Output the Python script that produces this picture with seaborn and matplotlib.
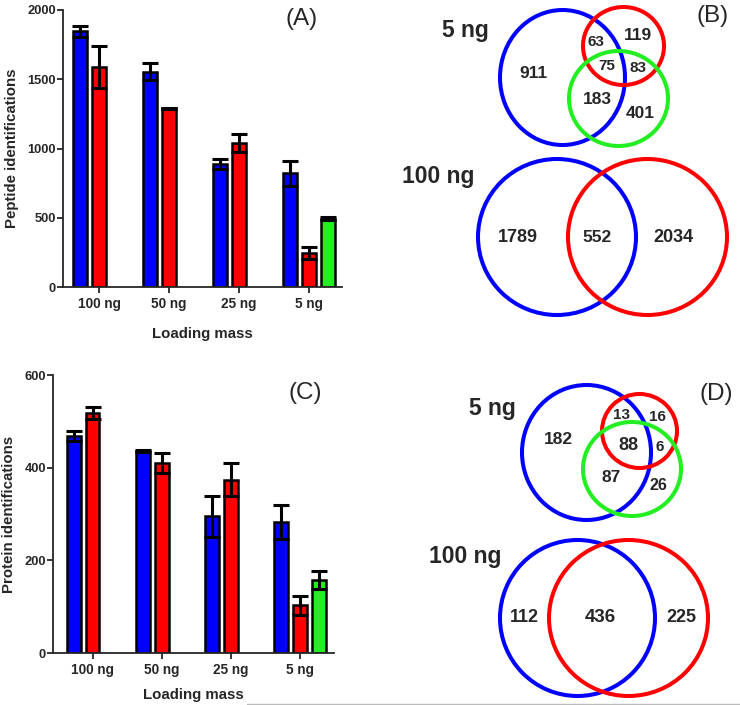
import numpy as np
import pandas as pd
import matplotlib
matplotlib.use("Agg")
import matplotlib.pyplot as plt
from matplotlib.patches import Ellipse
from matplotlib.lines import Line2D
import seaborn as sns

# ---------------- data ----------------
groups = ["100 ng", "50 ng", "25 ng", "5 ng"]
methods = ["Method 1", "Method 2", "Method 3"]
colors = ["#0000ff", "#ff0000", "#22ee22"]

pep_blue = [1845, 1555, 889, 822]
pep_blue_err = [43, 62, 38, 90]
pep_red = [1590, 1290, 1038, 245]
pep_red_err = [150, 5, 65, 43]
pep_green_groups = ["5 ng"]
pep_green = [493]
pep_green_err = [10]

prot_blue = [468, 436, 295, 283]
prot_blue_err = [11, 3, 44, 37]
prot_red = [517, 410, 374, 103]
prot_red_err = [13, 21, 36, 21]
prot_green_groups = ["5 ng"]
prot_green = [157]
prot_green_err = [19]

pep_yticks = [0, 500, 1000, 1500, 2000]
prot_yticks = [0, 200, 400, 600]

# Venn counts
venn_B_5ng = {"b": 911, "br": 63, "r": 119, "brg": 75, "rg": 83, "bg": 183, "g": 401}
venn_B_100ng = {"b": 1789, "br": 552, "r": 2034}
venn_D_5ng = {"b": 182, "br": 13, "r": 16, "brg": 88, "rg": 6, "bg": 87, "g": 26}
venn_D_100ng = {"b": 112, "br": 436, "r": 225}

# ---------------- style ----------------
sns.set_style("ticks")
plt.rcParams["font.family"] = ["Liberation Sans", "DejaVu Sans"]
plt.rcParams["axes.linewidth"] = 1.3
plt.rcParams["xtick.major.width"] = 1.3
plt.rcParams["ytick.major.width"] = 1.3

W, H = 740, 705
fig = plt.figure(figsize=(W / 100, H / 100), dpi=100)


def frame(values, errs, green_groups, green_vals, green_errs):
    rows = []
    for g, v, e in zip(groups, values[0], errs[0]):
        rows.append((g, methods[0], v, e))
    for g, v, e in zip(groups, values[1], errs[1]):
        rows.append((g, methods[1], v, e))
    for g, v, e in zip(green_groups, green_vals, green_errs):
        rows.append((g, methods[2], v, e))
    return pd.DataFrame(rows, columns=["mass", "method", "count", "err"])


def bar_panel(ax, df, yticks, ylabel, xlim, xpad):
    sns.barplot(data=df, x="mass", y="count", hue="method", order=groups,
                hue_order=methods, palette=colors, saturation=1,
                width=0.82, gap=0.27, errorbar=None, edgecolor="black",
                linewidth=1.8, legend=False, ax=ax)
    for cont, m in zip(ax.containers, methods):
        sub = df[df["method"] == m]
        for patch, e in zip(cont.patches, sub["err"].tolist()):
            x = patch.get_x() + patch.get_width() / 2
            y = patch.get_height()
            ax.errorbar(x, y, yerr=e, color="black", lw=2.2, capsize=5.5,
                        capthick=2.2, zorder=5)
    ax.set_ylim(yticks[0], yticks[-1])
    ax.set_yticks(yticks)
    ax.set_xlim(*xlim)
    ax.set_facecolor("none")
    sns.despine(ax=ax)
    ax.tick_params(axis="y", length=4, pad=1, labelsize=9.3)
    ax.tick_params(axis="x", length=4, pad=3, labelsize=9.8)
    for lab in ax.get_xticklabels() + ax.get_yticklabels():
        lab.set_fontweight("bold")
    ax.set_xlabel("Loading mass", fontsize=10.8, fontweight="bold", labelpad=xpad)
    ax.set_ylabel(ylabel, fontsize=10.8, fontweight="bold", labelpad=6)


# ---------------- overlay axes for venn / labels ----------------
ov = fig.add_axes([0, 0, 1, 1])
ov.set_xlim(0, W)
ov.set_ylim(H, 0)
ov.set_axis_off()

# ---------------- bar panels ----------------
axA = fig.add_axes([63 / W, 1 - 287 / H, (342 - 63) / W, (287 - 10) / H])
dfA = frame([pep_blue, pep_red], [pep_blue_err, pep_red_err],
            pep_green_groups, pep_green, pep_green_err)
bar_panel(axA, dfA, pep_yticks, "Peptide identifications", (-0.514, 3.47), 12)

axC = fig.add_axes([53 / W, 1 - 653 / H, (334 - 53) / W, (653 - 375) / H])
dfC = frame([prot_blue, prot_red], [prot_blue_err, prot_red_err],
            prot_green_groups, prot_green, prot_green_err)
bar_panel(axC, dfC, prot_yticks, "Protein identifications", (-0.571, 3.49), 8)

ov.text(302, 19, "(A)", fontsize=17.5, ha="center", va="center")
ov.text(305, 393, "(C)", fontsize=17.5, ha="center", va="center")

# ---------------- venn panels ----------------
LW = 2.9


def circ(c, w, h, col):
    ov.add_patch(Ellipse(c, w, h, fill=False, edgecolor=col, lw=LW))


def num(x, y, v, fs):
    ov.text(x, y, str(v), fontsize=fs, fontweight="bold", ha="center", va="center")


# (B) 5 ng
circ((562.5, 77.5), 125, 135, colors[0])
circ((623.5, 46), 81, 78, colors[1])
circ((618.5, 98.5), 99, 95, colors[2])
num(533, 73, venn_B_5ng["b"], 12.5)
num(596, 42, venn_B_5ng["br"], 11)
num(638, 35, venn_B_5ng["r"], 12.5)
num(607, 66, venn_B_5ng["brg"], 11)
num(638, 68, venn_B_5ng["rg"], 11)
num(597, 99, venn_B_5ng["bg"], 12.5)
num(640, 114, venn_B_5ng["g"], 12.5)
# (B) 100 ng
circ((557, 237), 158, 156, colors[0])
circ((647.5, 237), 159, 156, colors[1])
num(518, 237, venn_B_100ng["b"], 13)
num(597, 237, venn_B_100ng["br"], 12.5)
num(673, 237, venn_B_100ng["r"], 13)
ov.text(465, 30, "5 ng", fontsize=16.5, fontweight="bold", ha="center", va="center")
ov.text(438, 177, "100 ng", fontsize=16.5, fontweight="bold", ha="center", va="center")
ov.text(713, 16, "(B)", fontsize=17.5, ha="center", va="center")

# (D) 5 ng
circ((586.5, 452.5), 129, 135, colors[0])
circ((639.5, 431), 75, 74, colors[1])
circ((632, 469), 98, 94, colors[2])
num(558, 439, venn_D_5ng["b"], 12.5)
num(622, 415, venn_D_5ng["br"], 11)
num(657, 417, venn_D_5ng["r"], 11)
num(628, 446, venn_D_5ng["brg"], 13)
num(660, 447, venn_D_5ng["rg"], 11)
num(611, 478, venn_D_5ng["bg"], 12.5)
num(658, 485, venn_D_5ng["g"], 11.5)
# (D) 100 ng
circ((577.5, 618), 155, 156, colors[0])
circ((628.5, 618), 159, 156, colors[1])
num(524, 618, venn_D_100ng["b"], 13)
num(600, 618, venn_D_100ng["br"], 13.5)
num(681, 618, venn_D_100ng["r"], 13)
ov.text(492, 408, "5 ng", fontsize=16.5, fontweight="bold", ha="center", va="center")
ov.text(465, 556, "100 ng", fontsize=16.5, fontweight="bold", ha="center", va="center")
ov.text(716, 394, "(D)", fontsize=17.5, ha="center", va="center")

# thin grey rule at bottom
ov.add_line(Line2D([247, 740], [703.5, 703.5], color="#bbbbbb", lw=1))

fig.savefig("out.png", dpi=100)
